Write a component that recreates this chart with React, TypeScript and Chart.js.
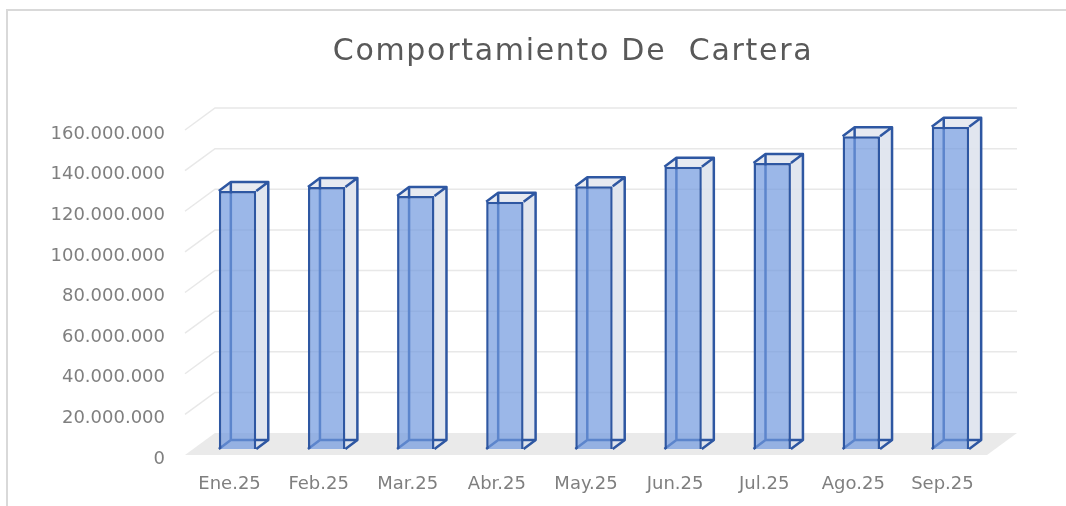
import React, { useEffect, useRef } from 'react';
import { Chart, registerables } from 'chart.js';

Chart.register(...registerables);

const titleText = 'Comportamiento De  Cartera';
const categories = ['Ene.25', 'Feb.25', 'Mar.25', 'Abr.25', 'May.25', 'Jun.25', 'Jul.25', 'Ago.25', 'Sep.25'];
const cartera = [127000000, 129000000, 124600000, 121700000, 129300000, 139000000, 140800000, 154000000, 158600000];
const yTickValues = [0, 20000000, 40000000, 60000000, 80000000, 100000000, 120000000, 140000000, 160000000];

const FRONT = { x: -8, y: 6 };
const BACK = { x: 22, y: -16 };
const DEPTH = { x: 12, y: -9 };
const EDGE = '#2E57A2';

const fmt = (v: number) => String(Math.round(v)).replace(/\B(?=(\d{3})+(?!\d))/g, '.');

const poly = (ctx: CanvasRenderingContext2D, pts: number[][]) => {
  ctx.beginPath();
  ctx.moveTo(pts[0][0], pts[0][1]);
  for (let i = 1; i < pts.length; i++) ctx.lineTo(pts[i][0], pts[i][1]);
  ctx.closePath();
};

const excel3d = {
  id: 'excel3d',
  beforeDraw(chart: any) {
    const { ctx, width, height } = chart;
    ctx.save();
    ctx.fillStyle = '#ffffff';
    ctx.fillRect(0, 0, width, height);
    ctx.strokeStyle = '#D9D9D9';
    ctx.lineWidth = 2;
    ctx.beginPath();
    ctx.moveTo(7, height);
    ctx.lineTo(7, 10);
    ctx.lineTo(width, 10);
    ctx.stroke();
    ctx.fillStyle = '#595959';
    ctx.font = '30px "DejaVu Sans"';
    (ctx as any).letterSpacing = '1.7px';
    ctx.textAlign = 'center';
    ctx.textBaseline = 'middle';
    ctx.fillText(titleText, 573, 52);
    ctx.restore();
  },
  beforeDatasetsDraw(chart: any) {
    const { ctx, chartArea } = chart;
    const ys = chart.scales.y;
    const L = chartArea.left;
    const R = chartArea.right;
    const base = ys.getPixelForValue(0);
    ctx.save();
    // floor
    ctx.fillStyle = '#EAEAEA';
    poly(ctx, [
      [L + FRONT.x, base + FRONT.y],
      [R + FRONT.x, base + FRONT.y],
      [R + BACK.x, base + BACK.y],
      [L + BACK.x, base + BACK.y],
    ]);
    ctx.fill();
    // back wall grid
    ctx.strokeStyle = '#E8E8E8';
    ctx.lineWidth = 1.5;
    yTickValues.forEach((v) => {
      if (v === 0) return;
      const y = ys.getPixelForValue(v);
      ctx.beginPath();
      ctx.moveTo(L + FRONT.x, y + FRONT.y);
      ctx.lineTo(L + BACK.x, y + BACK.y);
      ctx.lineTo(R + BACK.x, y + BACK.y);
      ctx.stroke();
    });
    // bar back / side / top
    const meta = chart.getDatasetMeta(0);
    meta.data.forEach((bar: any) => {
      const p = bar.getProps(['x', 'y', 'base', 'width'], true);
      const l = p.x - p.width / 2;
      const r = p.x + p.width / 2;
      const t = p.y;
      const b = p.base;
      ctx.fillStyle = 'rgba(222,227,237,0.9)';
      poly(ctx, [[r, t], [r + DEPTH.x, t + DEPTH.y], [r + DEPTH.x, b + DEPTH.y], [r, b]]);
      ctx.fill();
      ctx.fillStyle = 'rgba(228,232,240,0.9)';
      poly(ctx, [[l, t], [r, t], [r + DEPTH.x, t + DEPTH.y], [l + DEPTH.x, t + DEPTH.y]]);
      ctx.fill();
      ctx.strokeStyle = EDGE;
      ctx.lineWidth = 2.5;
      ctx.lineJoin = 'round';
      ctx.beginPath();
      ctx.moveTo(l + DEPTH.x, t + DEPTH.y);
      ctx.lineTo(l + DEPTH.x, b + DEPTH.y);
      ctx.lineTo(r + DEPTH.x, b + DEPTH.y);
      ctx.moveTo(l, b);
      ctx.lineTo(l + DEPTH.x, b + DEPTH.y);
      ctx.stroke();
      ctx.beginPath();
      ctx.moveTo(l, t);
      ctx.lineTo(l + DEPTH.x, t + DEPTH.y);
      ctx.lineTo(r + DEPTH.x, t + DEPTH.y);
      ctx.lineTo(r, t);
      ctx.moveTo(r + DEPTH.x, t + DEPTH.y);
      ctx.lineTo(r + DEPTH.x, b + DEPTH.y);
      ctx.lineTo(r, b);
      ctx.stroke();
    });
    ctx.restore();
  },
};

export default function App() {
  const ref = useRef<HTMLCanvasElement | null>(null);
  useEffect(() => {
    if (!ref.current) return;
    const chart = new Chart(ref.current, {
      type: 'bar',
      data: {
        labels: categories,
        datasets: [
          {
            label: 'Cartera',
            data: cartera,
            backgroundColor: 'rgba(112,152,222,0.7)',
            borderColor: EDGE,
            borderWidth: 2.5,
            barPercentage: 0.42,
            categoryPercentage: 1,
          },
        ],
      },
      options: {
        responsive: false,
        animation: false,
        layout: { padding: { left: 0, right: 71, top: 124, bottom: 0 } },
        plugins: {
          legend: { display: false },
          title: { display: false },
          tooltip: { enabled: false },
        },
        scales: {
          x: {
            grid: { display: false, drawTicks: false },
            border: { display: false },
            ticks: {
              color: '#7F7F7F',
              font: { family: '"DejaVu Sans"', size: 18 },
              padding: 25,
              labelOffset: -8,
              maxRotation: 0,
              autoSkip: false,
            },
            afterFit: (scale: any) => {
              scale.height = 57;
            },
          },
          y: {
            min: 0,
            max: 160000000,
            grid: { display: false, drawTicks: false },
            border: { display: false },
            afterBuildTicks: (scale: any) => {
              scale.ticks = yTickValues.map((v) => ({ value: v }));
            },
            ticks: {
              color: '#7F7F7F',
              font: { family: '"DejaVu Sans"', size: 18 },
              padding: 28,
              labelOffset: 10,
              callback: (v: any) => fmt(Number(v)),
            },
            afterFit: (scale: any) => {
              scale.width = 193;
            },
          },
        },
      },
      plugins: [excel3d],
    });
    return () => chart.destroy();
  }, []);
  return (
    <div style={{ position: 'absolute', left: 0, top: 0, width: 1066, height: 506 }}>
      <canvas ref={ref} width={1066} height={506} style={{ display: 'block', width: 1066, height: 506 }} />
    </div>
  );
}
